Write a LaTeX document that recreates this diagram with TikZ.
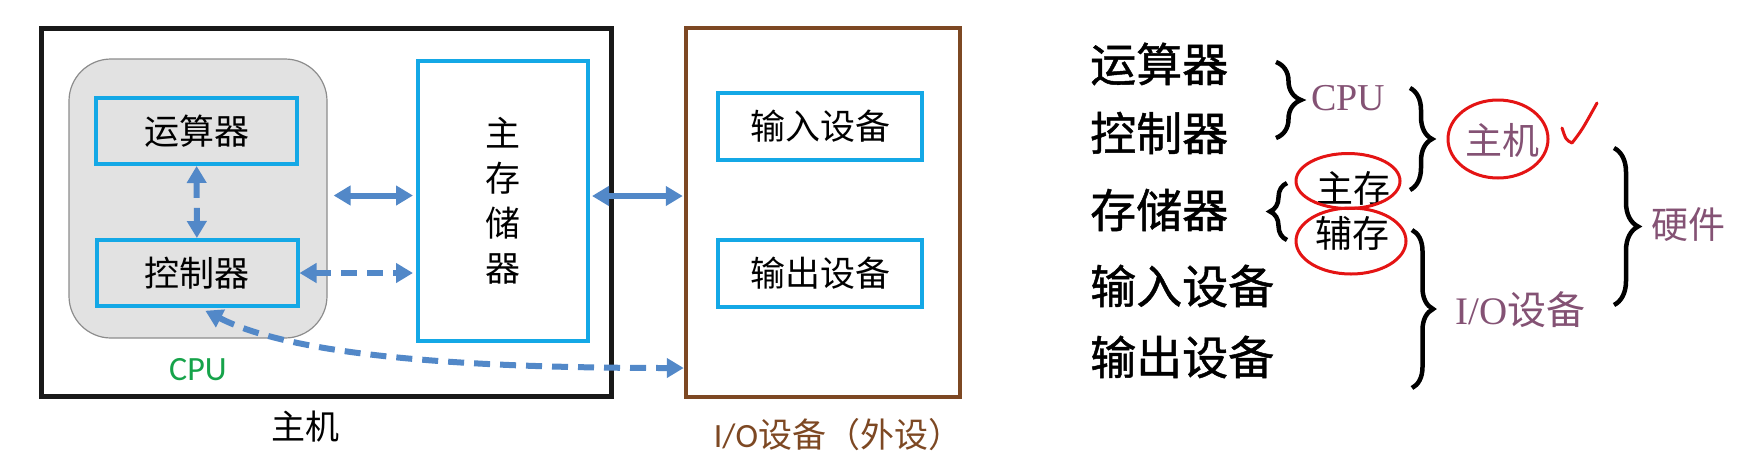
\documentclass[tikz,border=0pt]{standalone}
\usepackage{fontspec}
\setmainfont{Liberation Serif}
\newfontfamily\cjk{Noto Sans CJK SC}
\newfontfamily\cjkheavy[FakeBold=1]{Noto Sans CJK SC}
\newfontfamily\calibri{Carlito}
\usetikzlibrary{arrows.meta,shapes.geometric,decorations.pathreplacing}

\definecolor{partblue}{RGB}{20,168,230}
\definecolor{busblue}{RGB}{82,136,200}
\definecolor{cpugray}{RGB}{226,226,226}
\definecolor{cpuedge}{RGB}{140,140,140}
\definecolor{cpugreen}{RGB}{22,163,74}
\definecolor{iobrown}{RGB}{125,72,35}
\definecolor{tagpurple}{RGB}{132,82,116}
\definecolor{pen}{RGB}{228,20,20}

\def\boxfont{\cjk\fontsize{35}{45}\selectfont}
\def\listfont{\cjkheavy\fontsize{46}{50}\selectfont}
\def\tagfont{\cjk\fontsize{37}{40}\selectfont}

\begin{document}
\begin{tikzpicture}[x=1pt, y=-1pt, nodes = {inner sep=0pt},
    part/.style = {draw=partblue, line width=4pt, font=\boxfont},
    bus/.style = {busblue, line width=6pt,
      {Triangle[length=17pt,width=19pt]}-{Triangle[length=17pt,width=19pt]}},
    dbus/.style = {bus, dash pattern=on 16pt off 10pt},
    curly/.style = {decorate, line width=4.5pt, decoration={brace, amplitude=#1}},
    ring/.style = {ellipse, draw=pen, line width=3pt}
  ]
  \useasboundingbox (0,0) rectangle (1745,459);

  % host side
  \node[draw=black!90, line width=5pt, minimum width=570, minimum height=368] (host) at (326,212) {};
  \node[draw=cpuedge, fill=cpugray, line width=1.2pt, rounded corners=42pt,
    minimum width=258, minimum height=279] (cpu) at (198,198.5) {};
  \node[part, minimum width=201, minimum height=66] (alu) at (196.5,131) {运算器};
  \node[part, minimum width=201, minimum height=66] (ctrl) at (197,273) {控制器};
  \node[part, fill=white, align=center, minimum width=170, minimum height=280] (mem) at (503,201) {主\\存\\储\\器};
  \node[text=cpugreen, font=\calibri\fontsize{34}{36}\selectfont] (cpulbl) at (198,370) {CPU};
  \node[font=\cjk\fontsize{34}{36}\selectfont] (hostlbl) at (305,427) {主机};

  % peripheral side
  \node[draw=iobrown, line width=4.5pt, minimum width=274, minimum height=369] (io) at (823,212.5) {};
  \node[part, minimum width=204, minimum height=67] (inp) at (820,126.5) {输入设备};
  \node[part, minimum width=204, minimum height=67] (outp) at (820,273.5) {输出设备};
  \node[text=iobrown, font=\fontsize{34}{36}\selectfont] (iolbl) at (838,435) {{\calibri I/O}{\cjk 设备（外设）}};

  % buses
  \draw[dbus] (alu) -- (ctrl);
  \draw[bus, shorten <=6pt, shorten >=3pt] ([yshift=3pt]cpu.east) -- ([yshift=3pt]cpu.east -| mem.west);
  \draw[dbus, shorten >=3pt] (ctrl.east) -- (ctrl.east -| mem.west);
  \draw[bus, shorten <=2pt, shorten >=1pt] ([yshift=5pt]mem.east) -- ([yshift=5pt]mem.east -| io.west);
  \draw[dbus, shorten <=6pt] ([xshift=3pt]ctrl.south) .. controls +(90,46) and +(-235,0) .. (io.west |- 0,368);

  % the list on the right
  \foreach \txt/\y [count=\i] in {运算器/64, 控制器/133, 存储器/210, 输入设备/286, 输出设备/357}
    \node[anchor=west, font=\listfont] (item\i) at (1090,\y) {\txt};

  \draw[curly=25] (1276,62) -- (1276,138);     % CPU
  \draw[curly=22] (1410,88) -- (1410,190);     % host
  \draw[curly=17] (1287,240) -- (1287,183);    % storage
  \draw[curly=21] (1412,230) -- (1412,388);    % I/O
  \draw[curly=24] (1614,148) -- (1614,305);    % hardware

  \node[text=tagpurple, font=\fontsize{38}{40}\selectfont] (cputag) at (1348,98) {CPU};
  \node[text=tagpurple, font=\tagfont] (hosttag) at (1502,140) {主机};
  \node[font=\tagfont] (mainmem) at (1353,188) {主存};
  \node[font=\tagfont] (auxmem) at (1352,233) {辅存};
  \node[anchor=west, text=tagpurple, font=\fontsize{39}{42}\selectfont] (iotag) at (1455,310) {I/O{\cjk 设备}};
  \node[text=tagpurple, font=\tagfont] (hwtag) at (1688,225) {硬件};

  % red pen marks
  \node[ring, minimum width=100, minimum height=78] (hostring) at (1498,139) {};
  \node[ring, minimum width=104, minimum height=55] (mainring) at (1348,181) {};
  \node[ring, minimum width=110, minimum height=66] (auxring) at (1351,241) {};
  \draw[pen, line width=3pt, line cap=round, line join=round]
    (1562,128) .. controls (1566,140) .. (1572,143) .. controls (1582,130) .. (1597,103);
\end{tikzpicture}
\end{document}
